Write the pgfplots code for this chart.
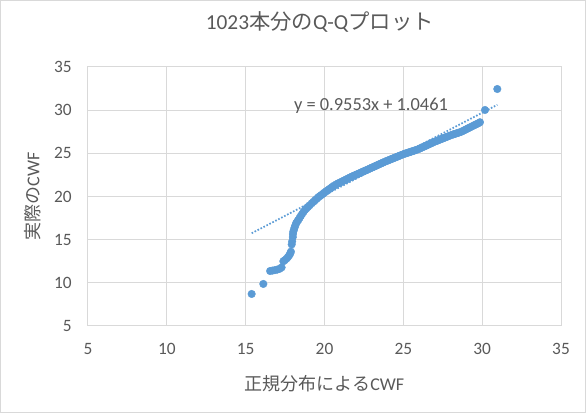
\documentclass[border=0pt]{standalone}
\usepackage{pgfplots}
\pgfplotsset{compat=1.18}
\usepackage{fontspec}
\setmainfont{Carlito}
\newfontfamily\jp{Noto Sans CJK JP}
\definecolor{gridc}{HTML}{D9D9D9}
\definecolor{labc}{HTML}{595959}
\definecolor{dotc}{HTML}{5B9BD5}
\begin{document}
\begin{tikzpicture}
\begin{axis}[
  scale only axis, width=354.75pt, height=194.25pt,
  xmin=5, xmax=35, ymin=5, ymax=35,
  xtick={5,10,...,35}, ytick={5,10,...,35},
  grid=major, major grid style={draw=gridc, line width=0.75pt},
  axis line style={draw=gridc, line width=0.75pt},
  major tick length=0pt,
  tick label style={font=\fontsize{13}{15}\selectfont, text=labc},
  /pgf/number format/assume math mode=true,
  yticklabel style={xshift=-8.7pt},
  xticklabel style={yshift=-9.6pt},
  xlabel={{\jp 正規分布による}CWF},
  ylabel={{\jp 実際の}CWF},
  label style={font=\fontsize{13.5}{16}\selectfont, text=labc},
  xlabel style={at={(rel axis cs:0.5,0)}, anchor=center, yshift=-43pt},
  ylabel style={at={(rel axis cs:0,0.5)}, anchor=center, rotate=0, yshift=41.5pt},
  title={1023{\jp 本分の}Q-Q{\jp プロット}},
  title style={font=\fontsize{16}{19}\selectfont, text=labc, at={(rel axis cs:0.49,1)}, anchor=center, yshift=27.75pt},
]
\addplot[only marks, mark=*, mark size=2.85pt, mark options={draw=dotc, fill=dotc, line width=0.3pt}] table {
x y
15.38 8.71
16.12 9.87
16.55 11.37
16.70 11.42
16.85 11.47
17.00 11.53
17.15 11.62
17.28 11.78
17.39 12.50
17.48 12.62
17.58 12.78
17.68 12.98
17.76 13.18
17.83 13.40
17.87 13.61
17.92 14.45
17.95 14.80
17.99 15.30
18.00 15.65
18.02 15.93
18.06 16.15
18.10 16.40
18.15 16.65
18.20 16.90
18.27 17.10
18.34 17.28
18.42 17.52
18.50 17.75
18.58 17.98
18.67 18.22
18.76 18.44
18.85 18.61
18.95 18.79
19.05 18.97
19.19 19.21
19.30 19.39
19.40 19.56
19.50 19.73
19.61 19.91
19.70 20.04
19.80 20.17
19.90 20.31
19.99 20.44
20.10 20.59
20.20 20.72
20.30 20.85
20.40 20.98
20.50 21.12
20.60 21.25
20.75 21.41
20.85 21.50
20.95 21.59
21.05 21.68
21.15 21.77
21.25 21.86
21.35 21.95
21.45 22.05
21.55 22.14
21.65 22.23
21.75 22.32
21.85 22.40
21.95 22.48
22.05 22.56
22.15 22.64
22.25 22.72
22.35 22.81
22.45 22.89
22.55 22.97
22.65 23.05
22.77 23.15
22.90 23.26
23.00 23.34
23.10 23.42
23.20 23.51
23.30 23.59
23.40 23.67
23.50 23.76
23.60 23.84
23.70 23.92
23.83 24.03
23.95 24.12
24.05 24.19
24.15 24.27
24.25 24.34
24.35 24.42
24.45 24.49
24.55 24.56
24.65 24.64
24.75 24.71
24.85 24.79
24.99 24.89
25.10 24.96
25.20 25.02
25.30 25.08
25.40 25.14
25.50 25.20
25.60 25.26
25.70 25.32
25.80 25.38
25.94 25.47
26.05 25.56
26.15 25.65
26.25 25.73
26.35 25.81
26.45 25.90
26.55 25.98
26.65 26.07
26.75 26.15
26.85 26.23
26.99 26.35
27.10 26.43
27.20 26.50
27.30 26.58
27.40 26.65
27.50 26.72
27.60 26.79
27.70 26.87
27.80 26.94
27.90 27.01
28.05 27.12
28.15 27.18
28.25 27.24
28.35 27.30
28.45 27.36
28.55 27.42
28.69 27.51
28.80 27.61
28.90 27.70
29.00 27.80
29.10 27.89
29.20 27.98
29.32 28.09
29.45 28.21
29.55 28.30
29.65 28.39
29.75 28.48
29.86 28.60
30.18 30.02
30.96 32.45
};
\addplot[dotc, line width=1.3pt, dash pattern=on 1.2pt off 1.3pt] coordinates {(15.38,15.74) (30.96,30.62)};
\node[font=\fontsize{13.8}{16}\selectfont, text=labc] at (axis cs:22.95,30.48) {y = 0.9553x + 1.0461};
\coordinate (sw) at (rel axis cs:0,0);
\coordinate (ne) at (rel axis cs:1,1);
\end{axis}
\pgfresetboundingbox
\path[use as bounding box] ([xshift=-66pt,yshift=-65.25pt]sw) rectangle ([xshift=18.75pt,yshift=50.25pt]ne);
\draw[gridc, line width=0.75pt] ([xshift=-65.6pt,yshift=-64.9pt]sw) rectangle ([xshift=18.4pt,yshift=49.9pt]ne);
\end{tikzpicture}
\end{document}
